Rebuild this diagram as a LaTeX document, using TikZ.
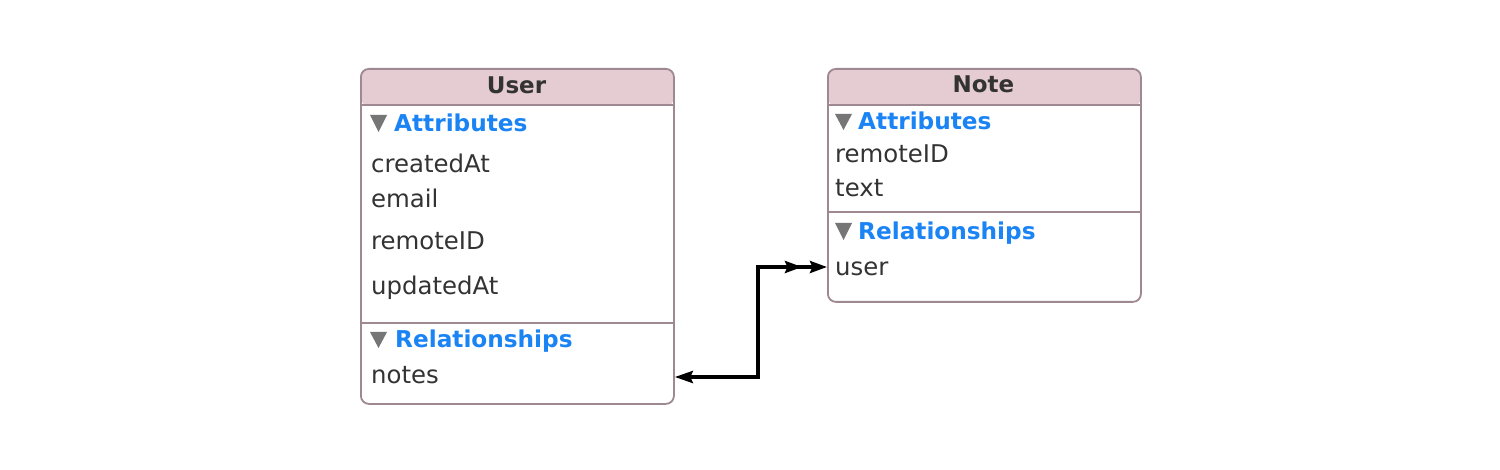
\documentclass[tikz,border=0pt]{standalone}
\usepackage{fontspec}
\setmainfont{DejaVu Sans}
\usetikzlibrary{arrows.meta,calc}
\definecolor{boxborder}{RGB}{158,136,145}
\definecolor{headfill}{RGB}{228,204,210}
\definecolor{textdark}{RGB}{51,51,51}
\definecolor{secblue}{RGB}{27,132,245}
\definecolor{trigray}{RGB}{118,118,118}
\tikzset{
  entity/.style={draw=boxborder, line width=1.8pt, fill=white, rounded corners=8pt,
    anchor=north west, minimum width=313pt, inner sep=0pt,
    path picture={\fill[headfill] (path picture bounding box.north west) rectangle ([yshift=-37pt]path picture bounding box.north east);}},
  divider/.style={draw=boxborder, line width=1.8pt},
  title/.style={font=\fontsize{23pt}{27pt}\selectfont\bfseries, text=textdark, anchor=base, inner sep=0pt},
  section/.style={font=\fontsize{23.2pt}{27pt}\selectfont\bfseries, text=secblue, anchor=base west, inner sep=0pt},
  item/.style={font=\fontsize{24.4pt}{28pt}\selectfont, text=textdark, anchor=base west, inner sep=0pt},
  tri/.style={fill=trigray},
  link/.style={line width=3.5pt, black}
}
\begin{document}
\begin{tikzpicture}[x=1pt,y=-1pt]
\useasboundingbox (0,0) rectangle (1500,470);
% User entity
\node[entity, minimum height=335pt] (user) at (360,68) {};
\draw[divider] ([yshift=-37pt]user.north west) -- ([yshift=-37pt]user.north east);
\draw[divider] ([yshift=-255pt]user.north west) -- ([yshift=-255pt]user.north east);
\node[title] (usertitle) at (516.5,94) {User};
\fill[tri] (370,115) -- (387,115) -- (378.5,132) -- cycle;
\node[section] (uattr) at (394,132) {Attributes};
\node[item] (ucreated) at (371,173) {createdAt};
\node[item] (uemail) at (371,208) {email};
\node[item] (uremote) at (371,250) {remoteID};
\node[item] (uupdated) at (371,295) {updatedAt};
\fill[tri] (370,332) -- (387,332) -- (378.5,348) -- cycle;
\node[section] (urel) at (395,348) {Relationships};
\node[item] (unotes) at (371,384) {notes};
% Note entity
\node[entity, minimum height=233pt] (note) at (827,68) {};
\draw[divider] ([yshift=-37pt]note.north west) -- ([yshift=-37pt]note.north east);
\draw[divider] ([yshift=-144pt]note.north west) -- ([yshift=-144pt]note.north east);
\node[title] (notetitle) at (983.5,93) {Note};
\fill[tri] (835,114) -- (852,114) -- (843.5,130) -- cycle;
\node[section] (nattr) at (858,130) {Attributes};
\node[item] (nremote) at (835,163) {remoteID};
\node[item] (ntext) at (835,197) {text};
\fill[tri] (835,223) -- (852,223) -- (843.5,240) -- cycle;
\node[section] (nrel) at (858,240) {Relationships};
\node[item] (nuser) at (835,276) {user};
% relationship connector
\coordinate (uport) at ($(user.east |- unotes.base)+(0,-7)$);
\coordinate (nport) at ($(note.west |- nuser.base)+(0,-9)$);
\draw[link, {Stealth[length=18pt,width=12pt,inset=2.5pt]}-{Stealth[length=17pt,width=12pt,inset=2.5pt,sep=8pt]Stealth[length=17pt,width=12pt,inset=2.5pt]}]
  (uport) -| ([xshift=-69pt]nport) -- (nport);
\end{tikzpicture}
\end{document}
